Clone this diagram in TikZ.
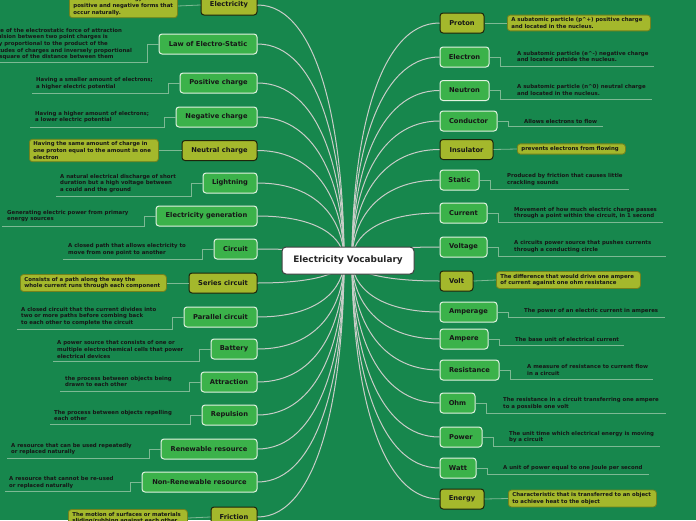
\documentclass[tikz,border=0pt]{standalone}
\usepackage{fontspec}
\setmainfont{DejaVu Sans}
\usetikzlibrary{calc}
\definecolor{bg}{RGB}{23,135,77}
\definecolor{gfill}{RGB}{59,178,74}
\definecolor{gborder}{RGB}{225,242,225}
\definecolor{ofill}{RGB}{164,184,44}
\definecolor{oborder}{RGB}{30,36,10}
\definecolor{odborder}{RGB}{115,130,28}
\definecolor{connc}{RGB}{200,205,200}
\definecolor{ulinec}{RGB}{125,185,148}
\definecolor{txt}{RGB}{22,22,22}
\tikzset{
  title/.style={draw=gborder, fill=gfill, rounded corners=3pt, line width=1pt,
    font=\fontsize{6.7}{8}\selectfont\bfseries, text=txt, minimum height=20pt, inner sep=0pt},
  otitle/.style={title, draw=oborder, fill=ofill},
  hubbox/.style={draw=black!75, fill=white, rounded corners=4pt, line width=1pt,
    font=\fontsize{8.9}{10}\selectfont\bfseries, text=black!85, minimum width=132pt, minimum height=27pt, inner sep=0pt},
  desc/.style={font=\fontsize{5.4}{6.6}\selectfont\bfseries, text=txt, align=left, inner sep=0pt, anchor=west},
  odesc/.style={desc, draw=odborder, fill=ofill, rounded corners=3pt, line width=0.8pt, inner xsep=4pt, inner ysep=2.5pt},
  conn/.style={draw=connc, line width=1pt},
  uline/.style={draw=ulinec, line width=0.8pt},
}
\begin{document}
\begin{tikzpicture}[x=1pt,y=-1pt]
\clip (0,0) rectangle (696,520);
\fill[bg] (0,0) rectangle (696,520);
\coordinate (hubL) at (344,260.5);
\coordinate (hubR) at (352,260.5);
% ---------- left titles
\node[otitle, minimum width=56pt]  (elec) at (229,5)     {Electricity};
\node[title,  minimum width=98pt]  (law)  at (208,44)    {Law of Electro-Static};
\node[title,  minimum width=77pt]  (pos)  at (218.5,83)  {Positive charge};
\node[title,  minimum width=81pt]  (neg)  at (216.5,117) {Negative charge};
\node[otitle, minimum width=75pt]  (neu)  at (219.5,150.5) {Neutral charge};
\node[title,  minimum width=54pt]  (lig)  at (230,183)   {Lightning};
\node[title,  minimum width=101pt] (gen)  at (206.5,216) {Electricity generation};
\node[title,  minimum width=43pt]  (cir)  at (235.5,249) {Circuit};
\node[otitle, minimum width=68pt]  (ser)  at (223,283)   {Series circuit};
\node[title,  minimum width=73pt]  (par)  at (220.5,317) {Parallel circuit};
\node[title,  minimum width=46pt]  (bat)  at (234,349)   {Battery};
\node[title,  minimum width=56pt]  (att)  at (229,382)   {Attraction};
\node[title,  minimum width=55pt]  (rep)  at (229.5,415) {Repulsion};
\node[title,  minimum width=96pt]  (ren)  at (209,449)   {Renewable resource};
\node[title,  minimum width=115pt] (non)  at (199.5,482) {Non-Renewable resource};
\node[otitle, minimum width=46pt]  (fri)  at (234,517)   {Friction};
% ---------- right titles
\node[otitle, minimum width=44pt] (pro)  at (462,23)    {Proton};
\node[title,  minimum width=49pt] (ele)  at (464.5,57)  {Electron};
\node[title,  minimum width=49pt] (neut) at (464.5,90.5) {Neutron};
\node[title,  minimum width=57pt] (con)  at (468.5,121) {Conductor};
\node[otitle, minimum width=53pt] (ins)  at (466.5,149.5) {Insulator};
\node[title,  minimum width=39pt] (sta)  at (459.5,180) {Static};
\node[title,  minimum width=47pt] (cur)  at (463.5,213) {Current};
\node[title,  minimum width=47pt] (vol)  at (463.5,247) {Voltage};
\node[otitle, minimum width=33pt] (volt) at (456.5,281) {Volt};
\node[title,  minimum width=57pt] (amg)  at (468.5,312) {Amperage};
\node[title,  minimum width=48pt] (amp)  at (464,339)   {Ampere};
\node[title,  minimum width=59pt] (res)  at (469.5,370) {Resistance};
\node[title,  minimum width=35pt] (ohm)  at (457.5,403) {Ohm};
\node[title,  minimum width=42pt] (pow)  at (461,437)   {Power};
\node[title,  minimum width=36pt] (wat)  at (458,468)   {Watt};
\node[otitle, minimum width=44pt] (ene)  at (462,499)   {Energy};
% ---------- connectors to hub
\begin{scope}[on background layer/.style={}]
\foreach \n/\y in {elec/5,law/44,pos/83,neg/117,neu/150.5,lig/183,gen/216,cir/249,ser/283,par/317,bat/349,att/382,rep/415,ren/449,non/482,fri/517}{
  \pgfmathsetmacro\d{(\y-260.5)/2}
  \draw[conn] (\n.east) .. controls +(62,0) and +(0,\d) .. (hubL);
}
\foreach \n/\y in {pro/23,ele/57,neut/90.5,con/121,ins/149.5,sta/180,cur/213,vol/247,volt/281,amg/312,amp/339,res/370,ohm/403,pow/437,wat/468,ene/499}{
  \pgfmathsetmacro\d{(\y-260.5)/2}
  \draw[conn] (\n.west) .. controls +(-62,0) and +(0,\d) .. (hubR);
}
\end{scope}
\node[hubbox] (ctr) at (348,260.5) {Electricity Vocabulary};
% ---------- underlines (left)
\foreach \n/\ux/\uy in {law/-2/62,pos/32/93,neg/30/127,lig/56/196,gen/2/226,cir/63/259,par/17/329,bat/53/361,att/60/391,rep/50/424,ren/7/458,non/5/491}{
  \coordinate (\n U) at (\ux,\uy);
  \draw[uline] (\n.west) -- ++(-11,0) |- (\n U);
}
% ---------- underlines (right)
\foreach \n/\ux/\uy in {ele/654/66,neut/652/99,con/603/126,sta/629/189,cur/663/222,vol/666/256,amg/665/317,amp/624/345,res/653/379,ohm/666/413,pow/660/446,wat/649/474}{
  \coordinate (\n U) at (\ux,\uy);
  \draw[uline] (\n.east) -- ++(11,0) |- (\n U);
}
% ---------- left descriptions
\node[odesc, text width=100pt] (elecd) at (69,6) {A basic form of energy seen in\\positive and negative forms that\\occur naturally.};
\node[desc] (lawd) at (-21,44) {The size of the electrostatic force of attraction\\or repulsion between two point charges is\\directly proportional to the product of the\\magnitudes of charges and inversely proportional\\to the square of the distance between them};
\node[desc] (posd) at (36,83.5) {Having a smaller amount of electrons;\\a higher electric potential};
\node[desc] (negd) at (35,117) {Having a higher amount of electrons;\\a lower electric potential};
\node[odesc, text width=121pt] (neud) at (29,150.5) {Having the same amount of charge in\\one proton equal to the amount in one\\electron};
\node[desc] (ligd) at (60,183.5) {A natural electrical discharge of short\\duration but a high voltage between\\a could and the ground};
\node[desc] (gend) at (7,216) {Generating electric power from primary\\energy sources};
\node[desc] (cird) at (68,249.5) {A closed path that allows electricity to\\move from one point to another};
\node[odesc, text width=138pt] (serd) at (20,283) {Consists of a path along the way the\\whole current runs through each component};
\node[desc] (pard) at (21,316.5) {A closed circuit that the current divides into\\two or more paths before combing back\\to each other to complete the circuit};
\node[desc] (batd) at (57,349.5) {A power source that consists of one or\\multiple electrochemical cells that power\\electrical devices};
\node[desc] (attd) at (65,381.5) {the process between objects being\\drawn to each other};
\node[desc] (repd) at (54,415.5) {The process between objects repelling\\each other};
\node[desc] (rend) at (11,449) {A resource that can be used repeatedly\\or replaced naturally};
\node[desc] (nond) at (9,482.5) {A resource that cannot be re-used\\or replaced naturally};
\node[odesc, text width=111pt] (frid) at (68,518) {The motion of surfaces or materials\\sliding/rubbing against each other};
% ---------- right descriptions
\node[odesc, text width=135pt] (prod) at (507,23) {A subatomic particle (p\^{}+) positive charge\\and located in the nucleus.};
\node[desc] (eled) at (517,56.5) {A subatomic particle (e\^{}-) negative charge\\and located outside the nucleus.};
\node[desc] (neutd) at (517,90) {A subatomic particle (n\^{}0) neutral charge\\and located in the nucleus.};
\node[desc] (cond) at (524,121) {Allows electrons to flow};
\node[odesc, text width=100pt] (insd) at (517,149) {prevents electrons from flowing};
\node[desc] (stad) at (507,179.5) {Produced by friction that causes little\\crackling sounds};
\node[desc] (curd) at (514,213) {Movement of how much electric charge passes\\through a point within the circuit, in 1 second};
\node[desc] (vold) at (514,246.5) {A circuits power source that pushes currents\\through a conducting circle};
\node[odesc, text width=136pt] (voltd) at (496,280) {The difference that would drive one ampere\\of current against one ohm resistance};
\node[desc] (amgd) at (524,311) {The power of an electric current in amperes};
\node[desc] (ampd) at (515,339) {The base unit of electrical current};
\node[desc] (resd) at (527,370) {A measure of resistance to current flow\\in a circuit};
\node[desc] (ohmd) at (503,403.5) {The resistance in a circuit transferring one ampere\\to a possible one volt};
\node[desc] (powd) at (509,437) {The unit time which electrical energy is moving\\by a circuit};
\node[desc] (watd) at (503,468) {A unit of power equal to one Joule per second};
\node[odesc, text width=140pt] (ened) at (508,498.5) {Characteristic that is transferred to an object\\to achieve heat to the object};
% ---------- links to boxed descriptions
\draw[uline] (elecd.east) -- (elec.west);
\draw[uline] (neud.east) -- (neu.west);
\draw[uline] (serd.east) -- (ser.west);
\draw[uline] (frid.east) -- (fri.west);
\draw[uline] (pro.east) -- (prod.west);
\draw[uline] (ins.east) -- (insd.west);
\draw[uline] (volt.east) -- (voltd.west);
\draw[uline] (ene.east) -- (ened.west);
\end{tikzpicture}
\end{document}
